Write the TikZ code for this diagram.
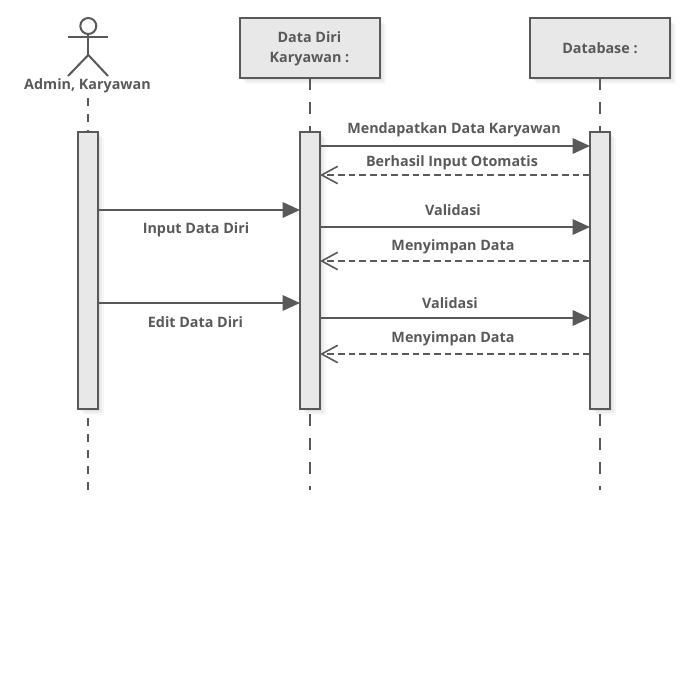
\documentclass[tikz,border=0pt]{standalone}
\usepackage{fontspec}
\setmainfont{Open Sans}
\usetikzlibrary{arrows.meta,shadows,positioning}
\definecolor{umlline}{HTML}{595959}
\definecolor{umlfill}{HTML}{E8E8E8}
\begin{document}
\begin{tikzpicture}[
  x=0.75pt,y=-0.75pt,
  softshadow/.style={
    general shadow={fill=black,opacity=.03,shadow xshift=0pt,shadow yshift=0pt,scale=1.02},
    general shadow={fill=black,opacity=.05,shadow xshift=1.5pt,shadow yshift=-1.5pt},
    general shadow={fill=black,opacity=.04,shadow xshift=3pt,shadow yshift=-3pt},
    general shadow={fill=black,opacity=.03,shadow xshift=4.5pt,shadow yshift=-4.5pt}},
  box/.style={draw=umlline,fill=umlfill,line width=1.5pt,outer sep=0pt,minimum width=105pt,minimum height=45pt,align=center,softshadow},
  bar/.style={draw=umlline,fill=umlfill,line width=1.5pt,outer sep=0pt,minimum width=15pt,minimum height=207.75pt,softshadow},
  lbl/.style={font=\bfseries\fontsize{10.75pt}{15pt}\selectfont,text=umlline,inner sep=0pt,align=center},
  life/.style={draw=umlline,line width=1.5pt,dash pattern=on 9pt off 9pt},
  lifeshort/.style={draw=umlline,line width=1.5pt,dash pattern=on 6pt off 6pt},
  stick/.style={draw=umlline,line width=1.5pt},
  msg/.style={draw=umlline,line width=1.5pt,-{Triangle[length=13pt,width=11.5pt,fill=umlline]}},
  reply/.style={draw=umlline,line width=1.5pt,dash pattern=on 5pt off 3pt,-{Straight Barb[length=12pt,width=13pt,line width=1.2pt]}}
]
\useasboundingbox (0,0) rectangle (690,692);

% lifeline heads
\node[box] (dataBox) at (310,48) {};
\node[lbl] (dataText) at (309.5,48.5) {Data Diri\\Karyawan :};
\node[box] (dbBox) at (600,48) {};
\node[lbl] (dbText) at (600,48.5) {Database :};
\node[lbl] (adminText) at (87.5,86) {Admin, Karyawan};

% actor
\draw[stick,fill=white] (88.3,26) circle (8);
\draw[stick] (68,37) -- (108,37);
\draw[stick] (88.3,34) -- (88.3,55);
\draw[stick] (68,76) -- (88.3,55) -- (108,76);

% activation bars
\node[bar] (adminBar) at (88,270.5) {};
\node[bar] (dataBar)  at (310,270.5) {};
\node[bar] (dbBar)    at (600,270.5) {};

% dashed lifelines, above and below the bars
\coordinate (adminStart) at (88,98);
\coordinate (adminEnd) at (88,490);
\coordinate (dataEnd)  at (310,490);
\coordinate (dbEnd)    at (600,490);
\draw[lifeshort] (adminStart) -- (adminBar.north);
\draw[life] (dataBox.south) -- (dataBar.north);
\draw[life] (dbBox.south) -- (dbBar.north);
\draw[lifeshort] (adminBar.south) ++(0,9) -- (adminEnd);
\draw[life] (dataBar.south) ++(0,5) -- (dataEnd);
\draw[life] (dbBar.south) ++(0,5) -- (dbEnd);

% message heights
\coordinate (m1) at (0,146);
\coordinate (m2) at (0,175);
\coordinate (m3) at (0,227);
\coordinate (m4) at (0,261);
\coordinate (m5) at (0,318);
\coordinate (m6) at (0,354);
\coordinate (a1) at (0,210);
\coordinate (a2) at (0,303);

% admin to data
\draw[msg] (adminBar.east |- a1) -- (dataBar.west |- a1);
\node[lbl] (inputText) at (196,229.5) {Input Data Diri};
\draw[msg] (adminBar.east |- a2) -- (dataBar.west |- a2);
\node[lbl] (editText) at (195.5,322) {Edit Data Diri};

% data to database and back
\draw[msg] (dataBar.east |- m1) -- (dbBar.west |- m1);
\node[lbl] (getText) at (454,129.5) {Mendapatkan Data Karyawan};
\draw[reply] (dbBar.west |- m2) -- (dataBar.east |- m2);
\node[lbl] (okText) at (452,162.5) {Berhasil Input Otomatis};
\draw[msg] (dataBar.east |- m3) -- (dbBar.west |- m3);
\node[lbl] (checkText) at (453,210.5) {Validasi};
\draw[reply] (dbBar.west |- m4) -- (dataBar.east |- m4);
\node[lbl] (saveText) at (453,246.5) {Menyimpan Data};
\draw[msg] (dataBar.east |- m5) -- (dbBar.west |- m5);
\node[lbl] (checkTextB) at (450,303.5) {Validasi};
\draw[reply] (dbBar.west |- m6) -- (dataBar.east |- m6);
\node[lbl] (saveTextB) at (453,338.5) {Menyimpan Data};
\end{tikzpicture}
\end{document}
